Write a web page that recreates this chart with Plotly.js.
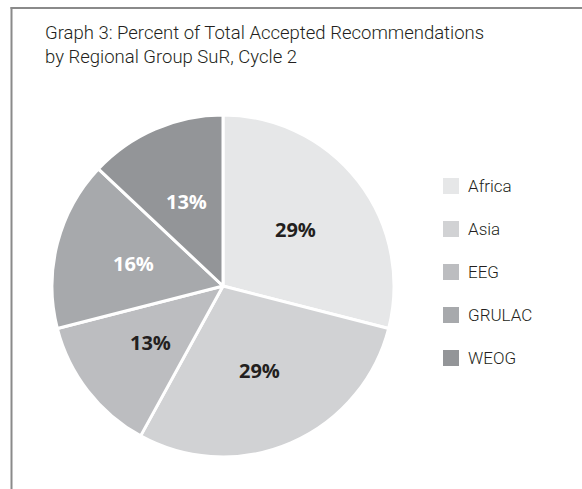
<!DOCTYPE html>
<html>
<head>
<meta charset="utf-8">
<script src="https://cdn.plot.ly/plotly-3.0.1.min.js"></script>
<style>html,body{margin:0;padding:0;background:#fff;}#chart{width:582px;height:489px;}</style>
</head>
<body>
<div id="chart"></div>
<script>
var labels = ["Africa", "Asia", "EEG", "GRULAC", "WEOG"];
var values = [29, 29, 13, 16, 13];
var colors = ["#e6e7e8", "#d1d2d4", "#bcbdc0", "#a7a9ac", "#939598"];
var labelColors = ["#231f20", "#231f20", "#231f20", "#ffffff", "#ffffff"];
var titleText = "Graph 3: Percent of Total Accepted Recommendations<br>by Regional Group SuR, Cycle 2";

var W = 582, H = 489;
var cx = 223, cy = 286, r = 171;

function px(x) { return x / W; }
function py(y) { return (H - y) / H; }

var shapes = [
  {type: "line", xref: "paper", yref: "paper", x0: px(11.5), x1: px(11.5), y0: 0, y1: py(7), line: {color: "#8a8a8a", width: 2}},
  {type: "line", xref: "paper", yref: "paper", x0: px(10.5), x1: 1, y0: py(8), y1: py(8), line: {color: "#8a8a8a", width: 2}}
];
var annotations = [];

// legend built from the labels and colours
var legX = 443, legY0 = 186, legStep = 43, sq = 16;
labels.forEach(function (lab, i) {
  var yc = legY0 + i * legStep;
  shapes.push({
    type: "rect", xref: "paper", yref: "paper",
    x0: px(legX), x1: px(legX + sq), y0: py(yc + sq / 2), y1: py(yc - sq / 2),
    line: {width: 0}, fillcolor: colors[i]
  });
  annotations.push({
    xref: "paper", yref: "paper", x: px(legX + sq + 7), y: py(yc),
    xanchor: "left", yanchor: "middle", showarrow: false, text: lab,
    font: {family: "Roboto, sans-serif", size: 17, color: "#231f20", weight: 300}
  });
});

// percentage labels, placed on each slice's bisector from the values
var total = values.reduce(function (a, b) { return a + b; }, 0);
var cum = 0;
values.forEach(function (v, i) {
  var mid = (cum + v / 2) / total * 2 * Math.PI;
  cum += v;
  var rr = 0.54 * r;
  annotations.push({
    xref: "paper", yref: "paper",
    x: px(cx + rr * Math.sin(mid)), y: py(cy - rr * Math.cos(mid)),
    xanchor: "center", yanchor: "middle", showarrow: false,
    text: Math.round(v / total * 100) + "%",
    font: {family: "Open Sans, sans-serif", size: 20, color: labelColors[i], weight: "bold"}
  });
});

var data = [{
  type: "pie",
  labels: labels,
  values: values,
  sort: false,
  direction: "clockwise",
  rotation: 0,
  marker: {colors: colors, line: {color: "#ffffff", width: 3}},
  textinfo: "none",
  hoverinfo: "label+percent",
  showlegend: false,
  domain: {x: [px(cx - r), px(cx + r)], y: [py(cy + r), py(cy - r)]}
}];

var layout = {
  width: W, height: H,
  margin: {l: 0, r: 0, t: 0, b: 0},
  paper_bgcolor: "#ffffff",
  showlegend: false,
  title: {
    text: titleText,
    x: px(45), xanchor: "left", xref: "container",
    y: py(39), yanchor: "top", yref: "container",
    font: {family: "Roboto, sans-serif", size: 18.5, color: "#231f20", weight: 300}
  },
  shapes: shapes,
  annotations: annotations
};

Plotly.newPlot("chart", data, layout, {displayModeBar: false, staticPlot: true});
</script>
</body>
</html>
